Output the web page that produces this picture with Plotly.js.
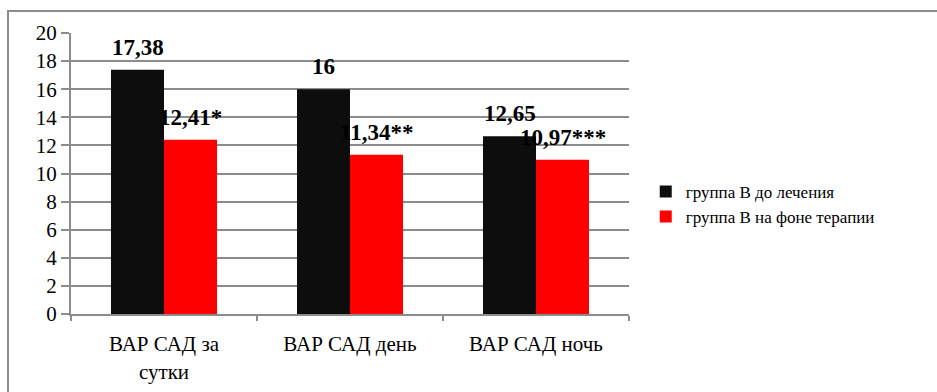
<!DOCTYPE html>
<html>
<head>
<meta charset="utf-8">
<script src="https://cdn.plot.ly/plotly-3.0.1.min.js"></script>
</head>
<body style="margin:0">
<div id="chart" style="width:937px;height:392px"></div>
<script>
// Categories and series
const categories = ['ВАР САД за<br>сутки', 'ВАР САД день', 'ВАР САД ночь'];
const seriesNames = ['группа В до лечения', 'группа В на фоне терапии'];
const beforeValues = [17.38, 16, 12.65];
const afterValues = [12.41, 11.34, 10.97];
const beforeMarks = ['', '', ''];
const afterMarks = ['*', '**', '***'];
const yTicks = [0, 2, 4, 6, 8, 10, 12, 14, 16, 18, 20];

const FONT = 'Times New Roman';
const GRID = '#8c8c8c';

function valueLabel(v, mark) {
  return String(v).replace('.', ',') + mark;
}

const traces = [
  {
    type: 'bar', name: seriesNames[0], x: categories, y: beforeValues,
    marker: { color: '#0d0d0d' }
  },
  {
    type: 'bar', name: seriesNames[1], x: categories, y: afterValues,
    marker: { color: '#ff0000' }
  }
];

// Value labels above each bar, shifted to each bar's half of the group
const annotations = [];
const half = 26.5;
categories.forEach((c, i) => {
  annotations.push({
    x: c, y: beforeValues[i],
    text: '<b>' + valueLabel(beforeValues[i], beforeMarks[i]) + '</b>',
    showarrow: false, xanchor: 'center', yanchor: 'bottom',
    xshift: -half, yshift: 8,
    font: { family: FONT, size: 23, color: '#000' }
  });
  annotations.push({
    x: c, y: afterValues[i],
    text: '<b>' + valueLabel(afterValues[i], afterMarks[i]) + '</b>',
    showarrow: false, xanchor: 'center', yanchor: 'bottom',
    xshift: half, yshift: 8,
    font: { family: FONT, size: 23, color: '#000' }
  });
});

const layout = {
  width: 937, height: 392,
  margin: { l: 71, r: 308, t: 33, b: 78 },
  barmode: 'group', bargap: 0.43,
  legend: {
    x: 1.03, y: 0.39, xanchor: 'left', yanchor: 'middle',
    font: { family: FONT, size: 17, color: '#000' }
  },
  xaxis: {
    showline: true, linecolor: GRID, linewidth: 2,
    ticks: 'outside', tickson: 'boundaries', ticklen: 5, tickwidth: 2, tickcolor: GRID,
    ticklabelstandoff: 10,
    tickfont: { family: FONT, size: 21, color: '#000' }
  },
  yaxis: {
    range: [0, 20], tickvals: yTicks,
    showline: true, linecolor: GRID, linewidth: 2,
    ticks: 'outside', ticklen: 8, tickwidth: 2, tickcolor: GRID,
    gridcolor: GRID, gridwidth: 2, zeroline: false,
    tickfont: { family: FONT, size: 21, color: '#000' }
  },
  annotations: annotations,
  shapes: [{
    type: 'rect', xref: 'paper', yref: 'paper',
    x0: -0.1129, x1: 1.56, y0: -0.29, y1: 1.0783,
    line: { color: GRID, width: 2 }, layer: 'below'
  }]
};

const config = { displayModeBar: false, staticPlot: true };
Plotly.newPlot('chart', traces, layout, config);
// redraw once the page's fonts are settled so text is measured in the serif face
if (document.fonts && document.fonts.ready) {
  document.fonts.ready.then(() => Plotly.react('chart', traces, layout, config));
}
</script>
</body>
</html>
